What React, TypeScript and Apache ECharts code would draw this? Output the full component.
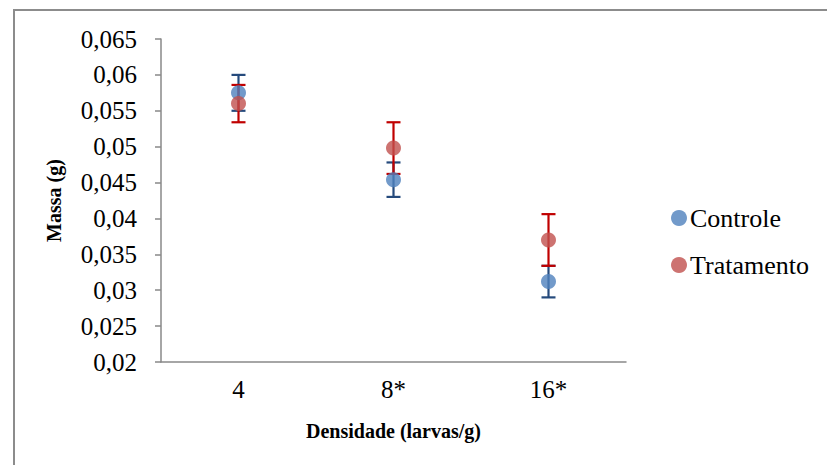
import React, { useEffect, useRef } from "react";
import * as echarts from "echarts";

const categories = ["4", "8*", "16*"];
const controleMean = [0.0575, 0.0454, 0.0312];
const controleErr = [0.0025, 0.0024, 0.0022];
const tratamentoMean = [0.056, 0.0498, 0.037];
const tratamentoErr = [0.0026, 0.0036, 0.0036];

const FONT = "'Liberation Serif', 'Times New Roman', serif";
const BLUE = "#4F81BD";
const RED = "#C0504D";
const BLUE_ERR = "#254A7C";
const RED_ERR = "#C00000";

function errSeries(name: string, means: number[], errs: number[], color: string, z: number) {
  return {
    type: "custom",
    name: name + "-err",
    z,
    silent: true,
    data: means.map((m, i) => [i, m - errs[i], m + errs[i]]),
    renderItem: (params: any, api: any) => {
      const x = api.value(0);
      const lo = api.coord([x, api.value(1)]);
      const hi = api.coord([x, api.value(2)]);
      const hw = 7;
      const style = { stroke: color, lineWidth: 2.2 };
      return {
        type: "group",
        children: [
          { type: "line", shape: { x1: lo[0], y1: lo[1], x2: hi[0], y2: hi[1] }, style },
          { type: "line", shape: { x1: lo[0] - hw, y1: lo[1], x2: lo[0] + hw, y2: lo[1] }, style },
          { type: "line", shape: { x1: hi[0] - hw, y1: hi[1], x2: hi[0] + hw, y2: hi[1] }, style },
        ],
      };
    },
  };
}

export default function App() {
  const ref = useRef<HTMLDivElement>(null);
  useEffect(() => {
    if (!ref.current) return;
    const chart = echarts.init(ref.current, undefined, { renderer: "svg" });
    chart.setOption({
      animation: false,
      backgroundColor: "#ffffff",
      textStyle: { fontFamily: FONT, color: "#000" },
      graphic: [
        {
          type: "rect",
          shape: { x: 14, y: 10, width: 900, height: 600 },
          style: { fill: "none", stroke: "#8c8c8c", lineWidth: 2 },
          z: -1,
        },
      ],
      grid: { left: 161, right: 201, top: 39, bottom: 103, containLabel: false },
      legend: {
        orient: "vertical",
        left: 666,
        top: 200,
        itemGap: 21,
        itemWidth: 16,
        itemHeight: 16,
        icon: "circle",
        data: ["Controle", "Tratamento"],
        textStyle: { fontFamily: FONT, fontSize: 26, color: "#000", padding: [0, 0, 0, -2] },
      },
      xAxis: {
        type: "category",
        data: categories,
        name: "Densidade (larvas/g)",
        nameLocation: "middle",
        nameGap: 59,
        nameTextStyle: { fontFamily: FONT, fontSize: 20, fontWeight: "bold", color: "#000" },
        axisLine: { lineStyle: { color: "#898989", width: 1.5 } },
        axisTick: { show: false },
        axisLabel: { fontFamily: FONT, fontSize: 25, color: "#000", margin: 15 },
        splitLine: { show: false },
      },
      yAxis: {
        type: "value",
        min: 0.02,
        max: 0.065,
        interval: 0.005,
        name: "Massa (g)",
        nameLocation: "middle",
        nameGap: 97,
        nameTextStyle: { fontFamily: FONT, fontSize: 20, fontWeight: "bold", color: "#000" },
        axisLine: { show: true, lineStyle: { color: "#898989", width: 1.5 } },
        axisTick: { show: true, length: 6, lineStyle: { color: "#898989", width: 1.5 } },
        axisLabel: {
          fontFamily: FONT,
          fontSize: 25,
          color: "#000",
          margin: 24,
          formatter: (v: number) => String(parseFloat(v.toFixed(4))).replace(".", ","),
        },
        splitLine: { show: false },
      },
      series: [
        errSeries("Controle", controleMean, controleErr, BLUE_ERR, 2),
        errSeries("Tratamento", tratamentoMean, tratamentoErr, RED_ERR, 3),
        {
          type: "scatter",
          name: "Controle",
          z: 4,
          symbol: "circle",
          symbolSize: 15,
          itemStyle: { color: BLUE },
          data: controleMean.map((v, i) => [i, v]),
        },
        {
          type: "scatter",
          name: "Tratamento",
          z: 5,
          symbol: "circle",
          symbolSize: 15,
          itemStyle: { color: RED },
          data: tratamentoMean.map((v, i) => [i, v]),
        },
      ],
    });
    return () => chart.dispose();
  }, []);
  return (
    <div
      ref={ref}
      style={{ position: "fixed", left: 0, top: 0, width: 827, height: 465 }}
    />
  );
}
